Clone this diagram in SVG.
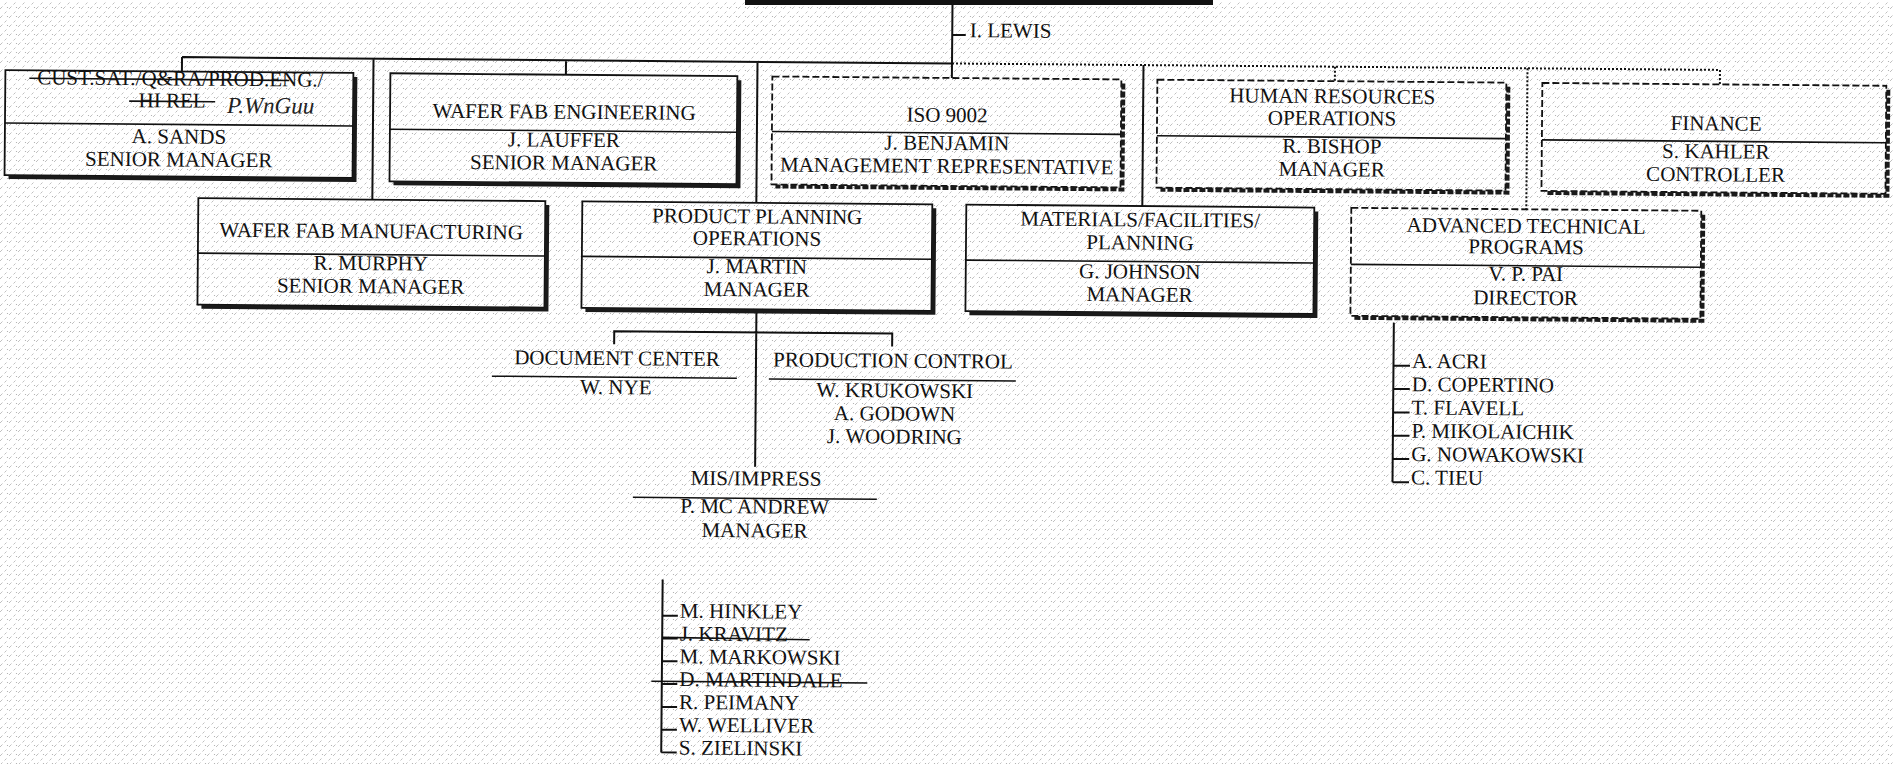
<svg xmlns="http://www.w3.org/2000/svg" width="1894" height="764" viewBox="0 0 1894 764">
<defs>
<pattern id="tex" width="9" height="9" patternUnits="userSpaceOnUse">
<rect width="9" height="9" fill="#ffffff"/>
<path d="M0 9 L2.5 6.5 M4.5 4.5 L6.5 2.5" stroke="#b0b0b0" stroke-width="0.8"/>
<circle cx="7.5" cy="7.5" r="0.6" fill="#a8a8a8"/>
</pattern>
<style>
.t{font-family:"Liberation Serif","Times New Roman",serif;font-size:21px;fill:#111;text-anchor:middle}
.l{text-anchor:start}
.hw{font-family:"Liberation Serif","Times New Roman",serif;font-style:italic;font-size:23px;fill:#222}
.box{fill:none;stroke:#111;stroke-width:1.8}
.dbox{fill:none;stroke:#111;stroke-width:1.8;stroke-dasharray:7 3}
.sh{fill:none;stroke:#1a1a1a;stroke-width:4}
.dsh{fill:none;stroke:#1a1a1a;stroke-width:4;stroke-dasharray:6 2}
.div{stroke:#111;stroke-width:1.6;fill:none}
.ln{stroke:#111;stroke-width:2;fill:none}
.dot{stroke:#111;stroke-width:2;stroke-dasharray:2 2;fill:none}
.ul{stroke:#111;stroke-width:1.5;fill:none}
.st{stroke:#111;stroke-width:1.6;fill:none}
</style>
</defs>
<rect width="1894" height="764" fill="url(#tex)"/>
<rect x="745" y="0" width="468" height="5" fill="#111"/>
<g transform="rotate(0.48)">
<g id="connectors">
<path class="ln" d="M952.5 -12 V70 M182.5 55.5 H952.5 M182.5 55.5 V70 M374 55.5 V196.5 M566.5 55.5 V70 M758 55.5 V196.5 M1144 55.5 V196.5"/>
<path class="ln" d="M952.5 27 H966"/>
<path class="dot" d="M952.5 55.5 H1720.5 M1335.5 55.5 V70 M1528 55.5 V196.5 M1720.5 55.5 V70"/>
<path class="ln" d="M759 303 V460.5 M617 339 V326 H895 V339"/>
<path class="ln" d="M1396.5 311 V470.5 M1396.5 354 H1413 M1396.5 377.3 H1413 M1396.5 400.6 H1413 M1396.5 423.9 H1413 M1396.5 447.2 H1413 M1396.5 470.5 H1413"/>
<path class="ln" d="M667.5 574 V747 M667.5 610 H683 M667.5 632.8 H683 M667.5 655.6 H683 M667.5 678.4 H683 M667.5 701.2 H683 M667.5 724 H683 M667.5 746.8 H683"/>
</g>
<g id="lewis"><text class="t l" x="970" y="29">I. LEWIS</text></g>
<g id="custsat">
<rect class="box" x="6" y="70" width="348" height="105"/>
<path class="sh" d="M356 74 V177 H10"/>
<path class="div" d="M6 123 H354"/>
<text class="t" x="181" y="84">CUST.SAT./Q&amp;RA/PROD.ENG./</text>
<path class="st" d="M30 78 H290"/>
<text class="t" x="173" y="106">HI REL</text>
<path class="st" d="M130 100 H216"/>
<text class="hw" x="228" y="111">P.WnGuu</text>
<text class="t" x="180" y="142">A. SANDS</text>
<text class="t" x="180" y="165">SENIOR MANAGER</text>
</g>
<g id="wfe">
<rect class="box" x="391" y="70" width="347" height="108"/>
<path class="sh" d="M740 74 V180 H395"/>
<path class="div" d="M391 126 H738"/>
<text class="t" x="565" y="114">WAFER FAB ENGINEERING</text>
<text class="t" x="565" y="142">J. LAUFFER</text>
<text class="t" x="565" y="165">SENIOR MANAGER</text>
</g>
<g id="iso">
<rect class="dbox" x="773" y="70" width="349" height="108"/>
<path class="dsh" d="M1124 74 V180 H777"/>
<path class="div" d="M773 125 H1122"/>
<text class="t" x="948" y="114">ISO 9002</text>
<text class="t" x="948" y="142">J. BENJAMIN</text>
<text class="t" x="948" y="165">MANAGEMENT REPRESENTATIVE</text>
</g>
<g id="hr">
<rect class="dbox" x="1158" y="70" width="349" height="108"/>
<path class="dsh" d="M1509 74 V180 H1162"/>
<path class="div" d="M1158 126 H1507"/>
<text class="t" x="1333" y="92">HUMAN RESOURCES</text>
<text class="t" x="1333" y="114">OPERATIONS</text>
<text class="t" x="1333" y="142">R. BISHOP</text>
<text class="t" x="1333" y="165">MANAGER</text>
</g>
<g id="finance">
<rect class="dbox" x="1543" y="70" width="344" height="108"/>
<path class="dsh" d="M1889 74 V180 H1547"/>
<path class="div" d="M1543 127 H1887"/>
<text class="t" x="1717" y="116">FINANCE</text>
<text class="t" x="1717" y="144">S. KAHLER</text>
<text class="t" x="1717" y="167">CONTROLLER</text>
</g>
<g id="wfm">
<rect class="box" x="200" y="196.5" width="347" height="106.5"/>
<path class="sh" d="M549 200.5 V305 H204"/>
<path class="div" d="M200 251.5 H547"/>
<text class="t" x="373" y="235">WAFER FAB MANUFACTURING</text>
<text class="t" x="373" y="267">R. MURPHY</text>
<text class="t" x="373" y="290">SENIOR MANAGER</text>
</g>
<g id="pp">
<rect class="box" x="584" y="196.5" width="350" height="106.5"/>
<path class="sh" d="M936 200.5 V305 H588"/>
<path class="div" d="M584 251.5 H934"/>
<text class="t" x="759" y="217">PRODUCT PLANNING</text>
<text class="t" x="759" y="239">OPERATIONS</text>
<text class="t" x="759" y="267">J. MARTIN</text>
<text class="t" x="759" y="290">MANAGER</text>
</g>
<g id="mat">
<rect class="box" x="968" y="196.5" width="348" height="106.5"/>
<path class="sh" d="M1318 200.5 V305 H972"/>
<path class="div" d="M968 252 H1316"/>
<text class="t" x="1142" y="217">MATERIALS/FACILITIES/</text>
<text class="t" x="1142" y="240">PLANNING</text>
<text class="t" x="1142" y="269">G. JOHNSON</text>
<text class="t" x="1142" y="292">MANAGER</text>
</g>
<g id="atp">
<rect class="dbox" x="1353" y="196.5" width="350" height="108"/>
<path class="dsh" d="M1705 200.5 V306.5 H1357"/>
<path class="div" d="M1353 253 H1703"/>
<text class="t" x="1528" y="220">ADVANCED TECHNICAL</text>
<text class="t" x="1528" y="241">PROGRAMS</text>
<text class="t" x="1528" y="268">V. P. PAI</text>
<text class="t" x="1528" y="292">DIRECTOR</text>
</g>
<g id="doccenter">
<text class="t" x="620" y="360">DOCUMENT CENTER</text>
<path class="ul" d="M495 372 H740"/>
<text class="t" x="619" y="389">W. NYE</text>
</g>
<g id="prodcontrol">
<text class="t" x="896" y="360">PRODUCTION CONTROL</text>
<path class="ul" d="M772 372.5 H1019"/>
<text class="t" x="898" y="390">W. KRUKOWSKI</text>
<text class="t" x="898" y="413">A. GODOWN</text>
<text class="t" x="898" y="436">J. WOODRING</text>
</g>
<g id="mis">
<text class="t" x="760" y="479">MIS/IMPRESS</text>
<path class="ul" d="M637 492 H881"/>
<text class="t" x="759" y="507">P. MC ANDREW</text>
<text class="t" x="759" y="531">MANAGER</text>
</g>
<g id="atp-staff">
<text class="t l" x="1415" y="356">A. ACRI</text>
<text class="t l" x="1415" y="379.3">D. COPERTINO</text>
<text class="t l" x="1415" y="402.6">T. FLAVELL</text>
<text class="t l" x="1415" y="425.9">P. MIKOLAICHIK</text>
<text class="t l" x="1415" y="449.2">G. NOWAKOWSKI</text>
<text class="t l" x="1415" y="472.5">C. TIEU</text>
</g>
<g id="mis-staff">
<text class="t l" x="685" y="612">M. HINKLEY</text>
<text class="t l" x="685" y="634.8">J. KRAVITZ</text>
<path class="st" d="M668 631.8 L815 633"/>
<text class="t l" x="685" y="657.6">M. MARKOWSKI</text>
<text class="t l" x="685" y="680.4">D. MARTINDALE</text>
<path class="st" d="M657 675.7 H873"/>
<text class="t l" x="685" y="703.2">R. PEIMANY</text>
<text class="t l" x="685" y="726">W. WELLIVER</text>
<text class="t l" x="685" y="748.8">S. ZIELINSKI</text>
</g>
</g>
</svg>
